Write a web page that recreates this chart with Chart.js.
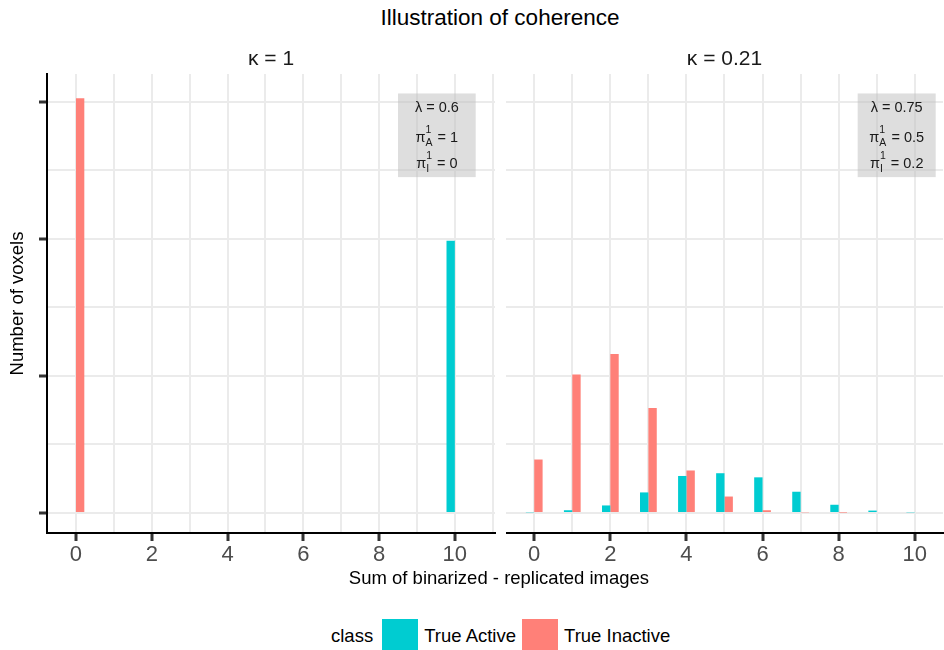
<!DOCTYPE html>
<html>
<head>
<meta charset="utf-8">
<script src="https://cdn.jsdelivr.net/npm/chart.js@4.4.1/dist/chart.umd.min.js"></script>
<style>
  html, body { margin: 0; padding: 0; background: #ffffff; }
  body { width: 944px; height: 650px; position: relative; overflow: hidden;
         font-family: "Liberation Sans", Arial, Helvetica, sans-serif; }
  canvas { position: absolute; top: 0; }
  #cLeft { left: 0; }
  #cRight { left: 506px; }
  .txt { position: absolute; white-space: nowrap; transform: translateX(-50%); color: #000; }
  #mainTitle { left: 500px; top: 5px; font-size: 22.5px; line-height: 26px; }
  #xTitle { left: 499px; top: 566px; font-size: 18.5px; line-height: 24px; }
  #legend { position: absolute; left: 331px; top: 619px; height: 34px; display: flex; align-items: center;
            font-size: 18.5px; color: #000; white-space: nowrap; }
  #legend .key { width: 36px; height: 34px; display: inline-block; }
</style>
</head>
<body>
<div id="mainTitle" class="txt"></div>
<canvas id="cLeft" width="497" height="600"></canvas>
<canvas id="cRight" width="438" height="600"></canvas>
<div id="xTitle" class="txt"></div>
<div id="legend"></div>
<script>
// ---------------- data ----------------
const chartTitle = 'Illustration of coherence';
const xAxisTitle = 'Sum of binarized - replicated images';
const yAxisTitle = 'Number of voxels';
const legendTitle = 'class';
const seriesNames = ['True Active', 'True Inactive'];
const panelTitles = ['\u03BA = 1', '\u03BA = 0.21'];

const xValues = [0, 1, 2, 3, 4, 5, 6, 7, 8, 9, 10];
const xTickLabels = ['0', '2', '4', '6', '8', '10'];
const yTickValues = [0, 200, 400, 600];
const yGridValues = [0, 100, 200, 300, 400, 500, 600];

// panel kappa = 1
const activeK1   = [0, 0, 0, 0, 0, 0, 0, 0, 0, 0, 397];
const inactiveK1 = [605, 0, 0, 0, 0, 0, 0, 0, 0, 0, 0];
// panel kappa = 0.21
const activeK021   = [1, 4, 11, 30, 54, 58, 52, 31, 12, 3.5, 1];
const inactiveK021 = [78, 202, 232, 153, 62, 24, 4, 1, 0.6, 0, 0];

// annotation values
const lambdaValues = ['0.6', '0.75'];
const piActive     = ['1', '0.5'];
const piInactive   = ['0', '0.2'];

// ---------------- style ----------------
const FONT = '"Liberation Sans", Arial, Helvetica, sans-serif';
const C_ACTIVE = '#00CCD1';
const C_INACTIVE = '#FF8078';
const GRID = '#EBEBEB';
Chart.defaults.font.family = FONT;

// ---------------- html texts ----------------
document.getElementById('mainTitle').textContent = chartTitle;
document.getElementById('xTitle').textContent = xAxisTitle;
(function buildLegend() {
  const lg = document.getElementById('legend');
  const t = document.createElement('span');
  t.textContent = legendTitle; t.style.marginRight = '9px';
  lg.appendChild(t);
  const cols = [C_ACTIVE, C_INACTIVE];
  seriesNames.forEach((n, i) => {
    const k = document.createElement('span');
    k.className = 'key'; k.style.background = cols[i];
    k.style.marginRight = '6px';
    lg.appendChild(k);
    const s = document.createElement('span');
    s.textContent = n; s.style.marginRight = '6px';
    lg.appendChild(s);
  });
})();

// ---------------- facet plugin (strip label + parameter box) ----------------
const facetPlugin = {
  id: 'facet',
  afterDatasetsDraw(chart, args, opts) {
    const { ctx, chartArea, scales } = chart;
    ctx.save();
    // strip label
    ctx.font = '21px ' + FONT;
    ctx.fillStyle = '#1A1A1A';
    ctx.textAlign = 'center';
    ctx.textBaseline = 'alphabetic';
    ctx.fillText(opts.strip, (chartArea.left + chartArea.right) / 2, opts.stripBaseline);

    // parameter box
    const bx0 = scales.x.getPixelForValue(opts.box.x0);
    const bx1 = scales.x.getPixelForValue(opts.box.x1);
    const by0 = scales.y.getPixelForValue(opts.box.y1);
    const by1 = scales.y.getPixelForValue(opts.box.y0);
    ctx.fillStyle = 'rgba(189,189,189,0.5)';
    ctx.fillRect(bx0, by0, bx1 - bx0, by1 - by0);

    const cx = (bx0 + bx1) / 2;
    const big = '14.5px ' + FONT, small = '10.5px ' + FONT;
    ctx.fillStyle = '#1A1A1A';
    ctx.textBaseline = 'middle';
    ctx.font = big;
    ctx.textAlign = 'center';
    ctx.fillText('\u03BB = ' + opts.lambda, cx, by0 + 15);

    function piLine(sub, val, y) {
      ctx.font = big;
      const wPi = ctx.measureText('\u03C0').width;
      const rest = ' = ' + val;
      const wRest = ctx.measureText(rest).width;
      ctx.font = small;
      const wS = Math.max(ctx.measureText('1').width, ctx.measureText(sub).width) + 1;
      let x = cx - (wPi + wS + wRest) / 2;
      ctx.textAlign = 'left';
      ctx.font = big; ctx.fillText('\u03C0', x, y); x += wPi;
      ctx.font = small; ctx.fillText('1', x, y - 8); ctx.fillText(sub, x, y + 5); x += wS;
      ctx.font = big; ctx.fillText(rest, x, y);
    }
    piLine('A', opts.piA, by0 + 45);
    piLine('I', opts.piI, by0 + 71);
    ctx.restore();
  }
};

function makeChart(canvasId, panel, active, inactive, isLeft) {
  const tickLabelled = v => xTickLabels.includes(String(v));
  const xGrid = isLeft ? xValues.concat([11]) : xValues;
  return new Chart(document.getElementById(canvasId), {
    type: 'bar',
    data: {
      datasets: [
        { label: seriesNames[0], data: xValues.map((x, i) => ({ x: x, y: active[i] })),
          backgroundColor: C_ACTIVE, borderWidth: 0 },
        { label: seriesNames[1], data: xValues.map((x, i) => ({ x: x, y: inactive[i] })),
          backgroundColor: C_INACTIVE, borderWidth: 0 }
      ]
    },
    options: {
      responsive: false,
      animation: false,
      devicePixelRatio: 1,
      categoryPercentage: 0.44,
      barPercentage: 1,
      layout: { padding: { top: 74, left: 0, right: isLeft ? 2 : 1, bottom: 0 } },
      plugins: {
        legend: { display: false },
        tooltip: { enabled: false },
        title: { display: false },
        facet: {
          strip: panelTitles[panel],
          stripBaseline: 65,
          lambda: lambdaValues[panel],
          piA: piActive[panel],
          piI: piInactive[panel],
          box: { x0: 8.5, x1: 10.55, y0: 490, y1: 612 }
        }
      },
      scales: {
        x: {
          type: 'linear',
          min: isLeft ? -0.765 : -0.742,
          max: isLeft ? 11.06 : 10.742,
          offset: false,
          afterBuildTicks: s => { s.ticks = xGrid.map(v => ({ value: v })); },
          afterFit: s => { s.height = 67; },
          grid: {
            offset: false, color: GRID, lineWidth: 2,
            drawTicks: true, tickLength: 8, tickWidth: 3,
            tickColor: c => (c.tick && tickLabelled(c.tick.value)) ? '#333333' : 'rgba(0,0,0,0)'
          },
          border: { display: true, color: '#000000', width: 2 },
          ticks: {
            padding: 1, autoSkip: false, maxRotation: 0, color: '#4D4D4D',
            font: { size: 22 },
            callback: v => tickLabelled(v) ? String(v) : ''
          }
        },
        y: {
          type: 'linear',
          min: -29.2, max: 640.4,
          afterBuildTicks: s => { s.ticks = yGridValues.map(v => ({ value: v })); },
          afterFit: s => { s.width = isLeft ? 47 : 0; },
          grid: {
            color: GRID, lineWidth: 2,
            drawTicks: isLeft, tickLength: 8, tickWidth: 3,
            tickColor: c => (c.tick && yTickValues.includes(c.tick.value)) ? '#333333' : 'rgba(0,0,0,0)'
          },
          border: { display: isLeft, color: '#000000', width: 2 },
          ticks: { display: false },
          title: {
            display: isLeft, text: yAxisTitle, color: '#000000',
            font: { size: 18.5 }, padding: { top: 7, bottom: 0 }
          }
        }
      }
    },
    plugins: [facetPlugin]
  });
}

makeChart('cLeft', 0, activeK1, inactiveK1, true);
makeChart('cRight', 1, activeK021, inactiveK021, false);
</script>
</body>
</html>
